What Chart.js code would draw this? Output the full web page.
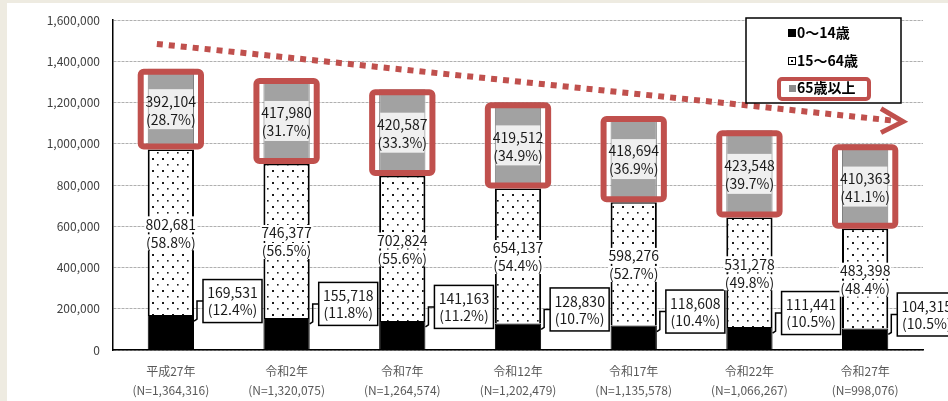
<!DOCTYPE html>
<html lang="ja">
<head>
<meta charset="utf-8">
<script src="https://cdn.jsdelivr.net/npm/chart.js@4.4.1/dist/chart.umd.min.js"></script>
<style>
  html, body { margin: 0; padding: 0; background: #eeebe1; }
  canvas { display: block; }
</style>
</head>
<body>
<canvas id="pop-chart" width="948" height="401"></canvas>
<script>
const categories = [
    ['平成27年', '(N=1,364,316)'],
    ['令和2年', '(N=1,320,075)'],
    ['令和7年', '(N=1,264,574)'],
    ['令和12年', '(N=1,202,479)'],
    ['令和17年', '(N=1,135,578)'],
    ['令和22年', '(N=1,066,267)'],
    ['令和27年', '(N=998,076)']
]
const age0to14 = [169531, 155718, 141163, 128830, 118608, 111441, 104315]
const age15to64 = [802681, 746377, 702824, 654137, 598276, 531278, 483398]
const age65plus = [392104, 417980, 420587, 419512, 418694, 423548, 410363]
const share0to14 = [12.4, 11.8, 11.2, 10.7, 10.4, 10.5, 10.5]
const share15to64 = [58.8, 56.5, 55.6, 54.4, 52.7, 49.8, 48.4]
const share65plus = [28.7, 31.7, 33.3, 34.9, 36.9, 39.7, 41.1]
const seriesNames = ['0〜14歳', '15〜64歳', '65歳以上']
const yTicks = [0, 200000, 400000, 600000, 800000, 1000000, 1200000, 1400000, 1600000]

const FONT = "'Noto Sans CJK JP', 'Noto Sans', sans-serif"
const RED = '#c0504d'
Chart.defaults.font.family = FONT

const fmt = n => n.toLocaleString('en-US')
const pct = p => '(' + p.toFixed(1) + '%)'

// dotted fill for the 15-64 segments
function dotPattern() {
    const c = document.createElement('canvas')
    c.width = 10; c.height = 12
    const g = c.getContext('2d')
    g.fillStyle = '#fff'
    g.fillRect(0, 0, 10, 12)
    g.fillStyle = '#1a1a1a'
    g.fillRect(2, 2, 2, 2)
    g.fillRect(7, 8, 1.6, 1.6)
    return g.createPattern(c, 'repeat')
}

function roundRect(ctx, x, y, w, h, r) {
    ctx.beginPath()
    ctx.moveTo(x + r, y)
    ctx.arcTo(x + w, y, x + w, y + h, r)
    ctx.arcTo(x + w, y + h, x, y + h, r)
    ctx.arcTo(x, y + h, x, y, r)
    ctx.arcTo(x, y, x + w, y, r)
    ctx.closePath()
}

const background = {
    id: 'background',
    beforeDraw(chart) {
        const ctx = chart.ctx
        ctx.save()
        ctx.fillStyle = '#eeebe1'
        ctx.fillRect(0, 0, chart.width, chart.height)
        ctx.fillStyle = '#fff'
        ctx.fillRect(7, 3, chart.width - 7, chart.height - 3)
        ctx.restore()
    }
}

const annotations = {
    id: 'annotations',
    afterDatasetsDraw(chart) {
        const ctx = chart.ctx
        const m0 = chart.getDatasetMeta(0)
        const m1 = chart.getDatasetMeta(1)
        const m2 = chart.getDatasetMeta(2)
        const yScale = chart.scales.y
        const area = chart.chartArea
        ctx.save()
        ctx.textAlign = 'center'
        ctx.textBaseline = 'middle'
        ctx.font = '14px ' + FONT

        categories.forEach((cat, i) => {
            const b0 = m0.data[i], b1 = m1.data[i], b2 = m2.data[i]
            const left = b2.x - b2.width / 2
            const right = b2.x + b2.width / 2

            // 65+ value label on a light band
            const mid2 = (b2.y + b2.base) / 2
            ctx.fillStyle = '#efefef'
            ctx.fillRect(left + 1, mid2 - 20, b2.width - 2, 40)
            ctx.fillStyle = '#1a1a1a'
            ctx.fillText(fmt(age65plus[i]), b2.x, mid2 - 8)
            ctx.fillText(pct(share65plus[i]), b2.x, mid2 + 10)

            // red frame round the 65+ segment
            ctx.strokeStyle = RED
            ctx.lineWidth = 6
            roundRect(ctx, left - 7, b2.y + 3, b2.width + 14, b2.base - b2.y - 6, 3)
            ctx.stroke()

            // 15-64 label
            const mid1 = (b1.y + b1.base) / 2
            const l1 = [fmt(age15to64[i]), pct(share15to64[i])]
            l1.forEach((t, k) => {
                const ty = mid1 - 8 + k * 18
                const w = ctx.measureText(t).width
                ctx.fillStyle = '#fff'
                ctx.fillRect(b1.x - w / 2 - 1, ty - 8, w + 2, 16)
                ctx.fillStyle = '#1a1a1a'
                ctx.fillText(t, b1.x, ty)
            })

            // callout for 0-14
            const bx = right + 9, bw = 59, bh = 43
            const cy = b0.y - 14
            ctx.strokeStyle = '#000'
            ctx.lineWidth = 1.5
            ctx.beginPath()
            ctx.moveTo(bx, cy)
            ctx.lineTo(right + 3, cy)
            ctx.lineTo(right + 3, b0.y + 4)
            ctx.lineTo(right, b0.y + 6)
            ctx.stroke()
            ctx.fillStyle = '#fff'
            ctx.fillRect(bx, cy - bh / 2, bw, bh)
            ctx.strokeRect(bx, cy - bh / 2, bw, bh)
            ctx.fillStyle = '#1a1a1a'
            ctx.fillText(fmt(age0to14[i]), bx + bw / 2, cy - 8)
            ctx.fillText(pct(share0to14[i]), bx + bw / 2, cy + 9)
        })

        // dotted downward trend arrow
        const x1 = m2.data[0].x - 14, y1 = yScale.getPixelForValue(1485000)
        const x2 = area.right - 20, y2 = yScale.getPixelForValue(1108000)
        ctx.strokeStyle = RED
        ctx.lineWidth = 6
        ctx.setLineDash([6, 6])
        ctx.beginPath()
        ctx.moveTo(x1, y1)
        ctx.lineTo(x2 - 6, y2 - 0.6)
        ctx.stroke()
        ctx.setLineDash([])
        ctx.lineWidth = 5
        ctx.beginPath()
        ctx.moveTo(x2 - 22, y2 - 13)
        ctx.lineTo(x2, y2)
        ctx.lineTo(x2 - 22, y2 + 11)
        ctx.stroke()

        // legend box
        const lx = 746, ly = 18, lw = 155, lh = 85
        ctx.fillStyle = '#fff'
        ctx.fillRect(lx, ly, lw, lh)
        ctx.strokeStyle = '#000'
        ctx.lineWidth = 1.5
        ctx.strokeRect(lx, ly, lw, lh)
        ctx.textAlign = 'left'
        ctx.font = 'bold 14px ' + FONT
        const rows = [33, 61, 88]
        seriesNames.forEach((name, k) => {
            const ry = rows[k]
            if (k === 0) {
                ctx.fillStyle = '#000'
                ctx.fillRect(788, ry - 4, 8, 8)
            } else if (k === 1) {
                ctx.strokeStyle = '#000'
                ctx.lineWidth = 1
                ctx.strokeRect(788.5, ry - 3.5, 7, 7)
                ctx.fillStyle = '#000'
                ctx.fillRect(791, ry - 1, 2, 2)
            } else {
                ctx.fillStyle = '#8c8c8c'
                ctx.fillRect(789, ry - 3, 7, 7)
            }
            ctx.fillStyle = '#000'
            ctx.fillText(name, 797, ry)
        })
        ctx.strokeStyle = RED
        ctx.lineWidth = 4
        roundRect(ctx, 779, 79, 90, 20, 3)
        ctx.stroke()
        ctx.restore()
    }
}

document.addEventListener('DOMContentLoaded', () => {
    let canvas = document.querySelector('#pop-chart')
    new Chart(canvas, {
        type: 'bar',
        data: {
            labels: categories,
            datasets: [
                {
                    label: seriesNames[0],
                    data: age0to14,
                    backgroundColor: '#000',
                    borderColor: '#000',
                    borderWidth: 1
                },
                {
                    label: seriesNames[1],
                    data: age15to64,
                    backgroundColor: dotPattern(),
                    borderColor: '#000',
                    borderWidth: { left: 2, right: 2, top: 1.5, bottom: 0 }
                },
                {
                    label: seriesNames[2],
                    data: age65plus,
                    backgroundColor: '#a2a2a2',
                    borderColor: '#7f7f7f',
                    borderWidth: 1
                }
            ]
        },
        options: {
            responsive: false,
            animation: false,
            barPercentage: 0.4,
            categoryPercentage: 1,
            layout: { padding: { top: 15, right: 25, left: 0, bottom: 0 } },
            plugins: {
                legend: { display: false },
                tooltip: { enabled: false }
            },
            scales: {
                x: {
                    stacked: true,
                    grid: { display: false, drawTicks: false },
                    border: { color: '#000', width: 1.5 },
                    ticks: {
                        autoSkip: false,
                        maxRotation: 0,
                        padding: 12,
                        color: '#595959',
                        font: { size: 12, lineHeight: 1.6 }
                    },
                    afterFit(scale) {
                        scale.height = 51
                        scale.paddingLeft = 0
                        scale.paddingRight = 0
                    }
                },
                y: {
                    stacked: true,
                    min: 0,
                    max: 1600000,
                    afterBuildTicks(scale) {
                        scale.ticks = yTicks.map(v => ({ value: v }))
                    },
                    grid: { color: '#b0b0b0', drawTicks: false },
                    border: { color: '#000', width: 1.5, dash: [3, 1] },
                    ticks: {
                        padding: 13,
                        color: '#404040',
                        font: { size: 12 },
                        callback: v => fmt(v)
                    },
                    afterFit(scale) {
                        scale.width = 113
                    }
                }
            }
        },
        plugins: [background, annotations]
    })
})
</script>
</body>
</html>
